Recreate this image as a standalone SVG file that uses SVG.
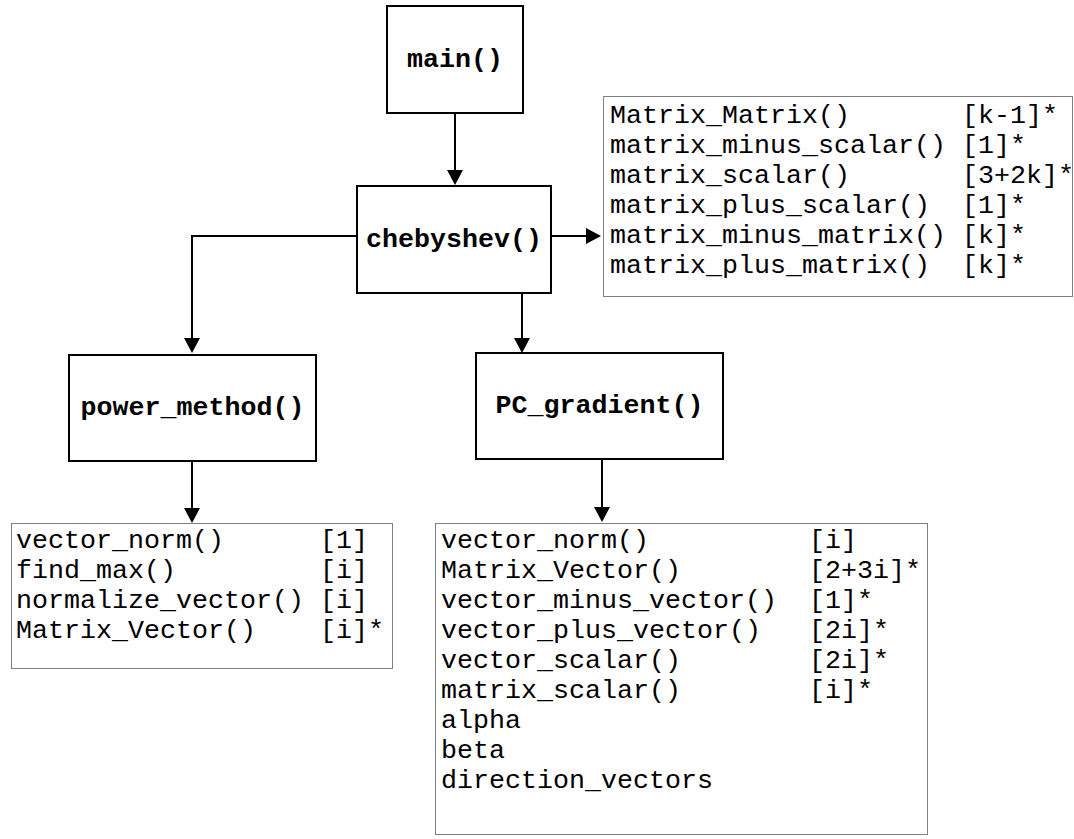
<svg xmlns="http://www.w3.org/2000/svg" width="1074" height="839" viewBox="0 0 1074 839">
<style>
.box{fill:#fff;stroke:#000;stroke-width:2}
.dot{fill:#fff;stroke:#000;stroke-width:1;stroke-dasharray:1 1}
.lbl{font-family:"Courier New","Liberation Mono",monospace;font-size:26.67px;font-weight:bold;fill:#000;text-anchor:middle}
.txt{font-family:"Courier New","Liberation Mono",monospace;font-size:26.67px;fill:#000}
.conn{fill:none;stroke:#000;stroke-width:2}
</style>
<defs>
<marker id="arr" markerUnits="userSpaceOnUse" markerWidth="16" markerHeight="16" refX="1" refY="8" orient="auto">
<path d="M0,0 L15,8 L0,16 z" fill="#000"/>
</marker>
</defs>
<rect width="1074" height="839" fill="#fff"/>
<g id="connectors">
<path class="conn" d="M455,113 V171" marker-end="url(#arr)"/>
<path class="conn" d="M551,236 H587" marker-end="url(#arr)"/>
<path class="conn" d="M357,236 H192 V339" marker-end="url(#arr)"/>
<path class="conn" d="M522,293 V339" marker-end="url(#arr)"/>
<path class="conn" d="M192,461 V509" marker-end="url(#arr)"/>
<path class="conn" d="M602,459 V508" marker-end="url(#arr)"/>
</g>
<g id="main">
<rect class="box" x="387" y="6" width="136" height="107"/>
<text class="lbl" x="455" y="67">main()</text>
</g>
<g id="chebyshev">
<rect class="box" x="357" y="186" width="194" height="107"/>
<text class="lbl" x="454" y="247">chebyshev()</text>
</g>
<g id="power_method">
<rect class="box" x="69" y="355" width="247" height="106"/>
<text class="lbl" x="192.5" y="415">power_method()</text>
</g>
<g id="PC_gradient">
<rect class="box" x="476" y="353" width="247" height="106"/>
<text class="lbl" x="599.5" y="413">PC_gradient()</text>
</g>
<g id="chebyshev_calls">
<rect class="dot" x="603.5" y="96.5" width="469" height="200"/>
<text class="txt"><tspan x="610" y="123">Matrix_Matrix()</tspan><tspan x="962" y="123">[k-1]*</tspan><tspan x="610" y="153">matrix_minus_scalar()</tspan><tspan x="962" y="153">[1]*</tspan><tspan x="610" y="183">matrix_scalar()</tspan><tspan x="962" y="183">[3+2k]*</tspan><tspan x="610" y="213">matrix_plus_scalar()</tspan><tspan x="962" y="213">[1]*</tspan><tspan x="610" y="243">matrix_minus_matrix()</tspan><tspan x="962" y="243">[k]*</tspan><tspan x="610" y="273">matrix_plus_matrix()</tspan><tspan x="962" y="273">[k]*</tspan></text>
</g>
<g id="power_calls">
<rect class="dot" x="11.5" y="523.5" width="381" height="145"/>
<text class="txt"><tspan x="16" y="548">vector_norm()</tspan><tspan x="320" y="548">[1]</tspan><tspan x="16" y="578">find_max()</tspan><tspan x="320" y="578">[i]</tspan><tspan x="16" y="608">normalize_vector()</tspan><tspan x="320" y="608">[i]</tspan><tspan x="16" y="638">Matrix_Vector()</tspan><tspan x="320" y="638">[i]*</tspan></text>
</g>
<g id="pc_calls">
<rect class="dot" x="435.5" y="523.5" width="492" height="311"/>
<text class="txt"><tspan x="441" y="548">vector_norm()</tspan><tspan x="809" y="548">[i]</tspan><tspan x="441" y="578">Matrix_Vector()</tspan><tspan x="809" y="578">[2+3i]*</tspan><tspan x="441" y="608">vector_minus_vector()</tspan><tspan x="809" y="608">[1]*</tspan><tspan x="441" y="638">vector_plus_vector()</tspan><tspan x="809" y="638">[2i]*</tspan><tspan x="441" y="668">vector_scalar()</tspan><tspan x="809" y="668">[2i]*</tspan><tspan x="441" y="698">matrix_scalar()</tspan><tspan x="809" y="698">[i]*</tspan><tspan x="441" y="728">alpha</tspan><tspan x="441" y="758">beta</tspan><tspan x="441" y="788">direction_vectors</tspan></text>
</g>
</svg>
